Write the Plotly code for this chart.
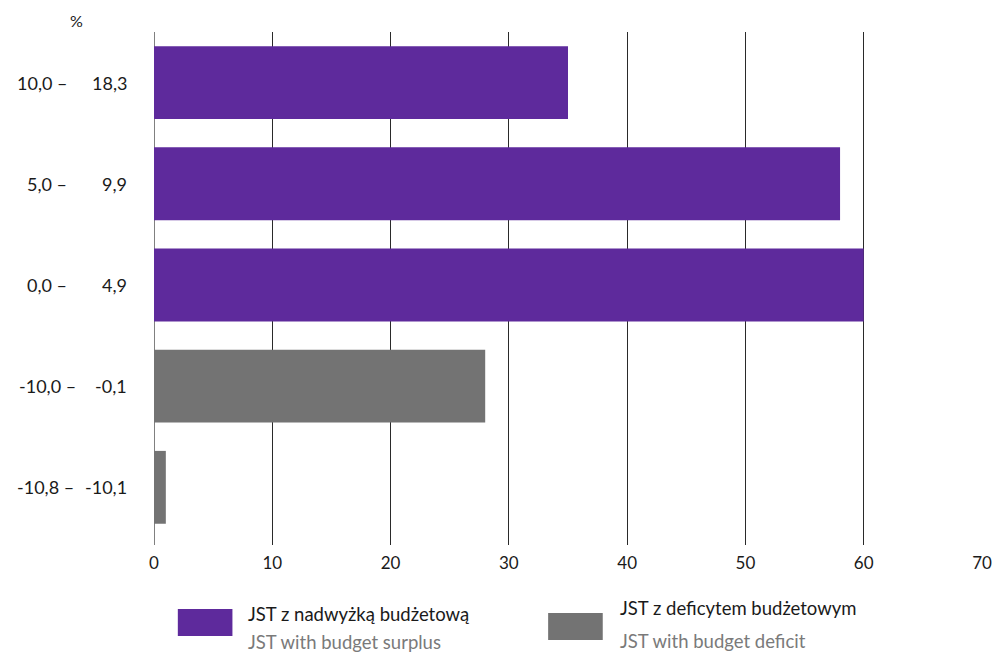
import plotly.graph_objects as go

categories = ["10,0 – 18,3", "5,0 – 9,9", "0,0 – 4,9", "-10,0 – -0,1", "-10,8 – -10,1"]
range_low = ["10,0 –", "5,0 –", "0,0 –", "-10,0 –", "-10,8 –"]
range_high = ["18,3", "9,9", "4,9", "-0,1", "-10,1"]
values = [35, 58, 60, 28, 1]
is_surplus = [True, True, True, False, False]
x_ticks = [0, 10, 20, 30, 40, 50, 60, 70]

PURPLE = "#5e2a9c"
GRAY = "#737373"
FONT = "Lato"

W, H = 1004, 652
L, R, T, B = 154, 16, 32, 107
pw = W - L - R
ph = H - T - B

def px_x(p):
    return (p - L) / pw

def px_y(p):
    return 1 - (p - T) / ph

fig = go.Figure()
fig.add_trace(go.Bar(
    y=[c for c, s in zip(categories, is_surplus) if s],
    x=[v for v, s in zip(values, is_surplus) if s],
    orientation="h", marker=dict(color=PURPLE, line=dict(width=0)),
    width=0.72, name="JST z nadwyżką budżetową", showlegend=False,
))
fig.add_trace(go.Bar(
    y=[c for c, s in zip(categories, is_surplus) if not s],
    x=[v for v, s in zip(values, is_surplus) if not s],
    orientation="h", marker=dict(color=GRAY, line=dict(width=0)),
    width=0.72, name="JST z deficytem budżetowym", showlegend=False,
))

annotations = []
low_right_px = [68, 68, 68, 77, 75]
for cat, lo, hi, lx in zip(categories, range_low, range_high, low_right_px):
    annotations.append(dict(x=px_x(lx), y=cat, xref="paper", yref="y", text=lo,
                            showarrow=False, xanchor="right", yanchor="middle",
                            font=dict(family=FONT, size=18, color="#1a1a1a")))
    annotations.append(dict(x=px_x(129), y=cat, xref="paper", yref="y", text=hi,
                            showarrow=False, xanchor="right", yanchor="middle",
                            font=dict(family=FONT, size=18, color="#1a1a1a")))
annotations.append(dict(x=px_x(76), y=px_y(20), xref="paper", yref="paper", text="%",
                        showarrow=False, xanchor="center", yanchor="middle",
                        font=dict(family=FONT, size=16, color="#1a1a1a")))
# legend texts
LEG = 18.5
annotations += [
    dict(x=px_x(247), y=px_y(614), xref="paper", yref="paper", text="JST z nadwyżką budżetową",
         showarrow=False, xanchor="left", yanchor="middle", font=dict(family=FONT, size=LEG, color="#1a1a1a")),
    dict(x=px_x(247), y=px_y(642), xref="paper", yref="paper", text="JST with budget surplus",
         showarrow=False, xanchor="left", yanchor="middle", font=dict(family=FONT, size=LEG, color="#7a7a7a")),
    dict(x=px_x(621), y=px_y(608), xref="paper", yref="paper", text="JST z deficytem budżetowym",
         showarrow=False, xanchor="left", yanchor="middle", font=dict(family=FONT, size=LEG, color="#1a1a1a")),
    dict(x=px_x(621), y=px_y(641), xref="paper", yref="paper", text="JST with budget deficit",
         showarrow=False, xanchor="left", yanchor="middle", font=dict(family=FONT, size=LEG, color="#7a7a7a")),
]

shapes = [
    dict(type="rect", xref="paper", yref="paper", x0=px_x(178), x1=px_x(233), y0=px_y(636), y1=px_y(609),
         fillcolor=PURPLE, line=dict(width=0)),
    dict(type="rect", xref="paper", yref="paper", x0=px_x(551), x1=px_x(606), y0=px_y(640), y1=px_y(613),
         fillcolor=GRAY, line=dict(width=0)),
]

fig.update_layout(
    width=W, height=H,
    margin=dict(l=L, r=R, t=T, b=B),
    plot_bgcolor="white", paper_bgcolor="white",
    barmode="relative",
    font=dict(family=FONT, size=16, color="#1a1a1a"),
    xaxis=dict(range=[0, 70], tickvals=x_ticks, ticktext=[str(t) for t in x_ticks],
               showgrid=True, gridcolor="#2a2a2a", gridwidth=1,
               zeroline=False, showline=False, ticks="", ticklabelstandoff=6,
               tickfont=dict(family=FONT, size=17, color="#1a1a1a")),
    yaxis=dict(type="category", categoryorder="array", categoryarray=categories,
               range=[4.57, -0.5], showticklabels=False, showgrid=False,
               zeroline=False, showline=False, ticks=""),
    annotations=annotations,
    shapes=shapes + [dict(type="line", xref="x", yref="paper", x0=0, x1=0, y0=0, y1=1,
                          line=dict(color="#808080", width=2), layer="below")],
)

fig.write_html("out.html", config={"displayModeBar": False},
               post_script="document.body.style.margin='0';document.body.style.overflow='hidden';")
